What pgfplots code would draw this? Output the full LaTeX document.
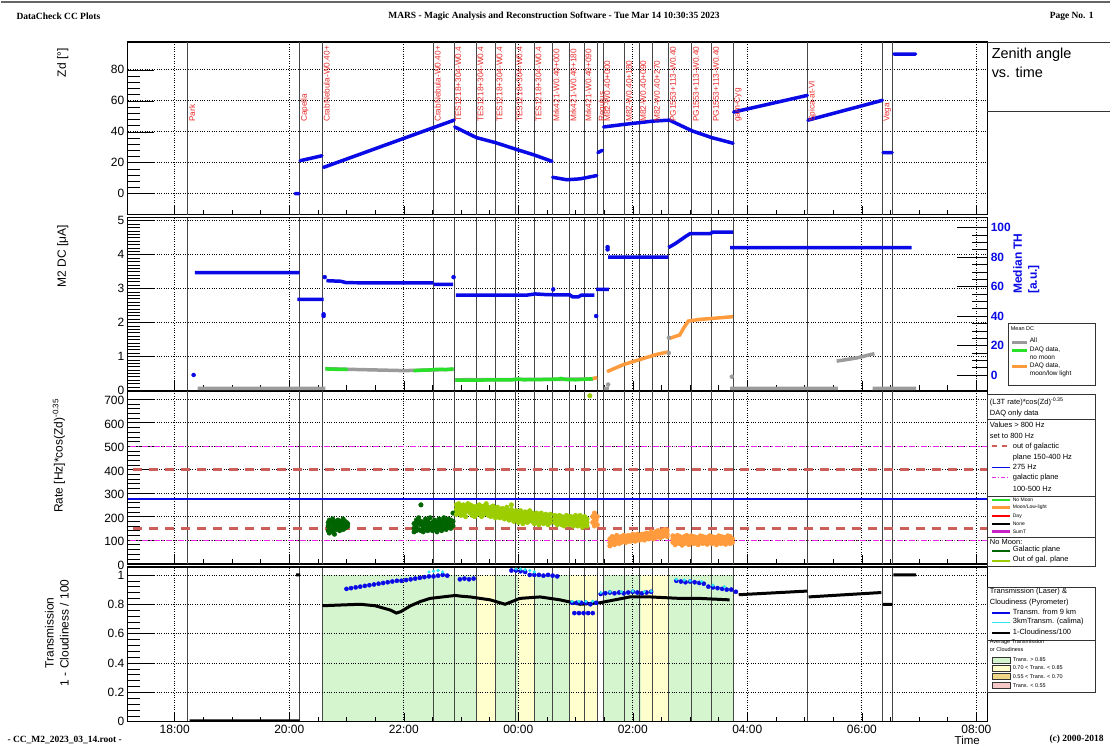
\documentclass[border=0pt]{standalone}
\usepackage{fontspec}
\setmainfont{Liberation Sans}
\newfontfamily\hdrfont{Liberation Serif}
\usepackage{pgfplots}
\usepackage{pgfplotstable}
\pgfplotsset{compat=1.18}

\definecolor{zdblue}{RGB}{10,10,230}
\definecolor{dcgray}{RGB}{155,155,155}
\definecolor{nomoon}{RGB}{40,225,40}
\definecolor{moonor}{RGB}{255,155,60}
\definecolor{galgreen}{RGB}{0,100,0}
\definecolor{outgal}{RGB}{155,205,0}
\definecolor{reddash}{RGB}{205,95,90}
\definecolor{magdash}{RGB}{235,40,235}
\definecolor{cyanc}{RGB}{40,230,240}
\definecolor{labred}{RGB}{235,45,45}
\definecolor{trgreen}{RGB}{212,245,206}
\definecolor{tryellow}{RGB}{255,255,205}
\definecolor{trorange}{RGB}{240,215,135}
\definecolor{trpink}{RGB}{247,200,200}
\definecolor{vline}{RGB}{70,70,70}

\pgfplotsset{
  panel/.style={
    scale only axis, width=861pt,
    xmin=17.18, xmax=32.19,
    xtick={18,20,22,24,26,28,30,32}, minor x tick num=3, xticklabels={},
    tick align=inside, xtick pos=bottom, ytick pos=left,
    major tick length=26pt, minor tick length=12pt,
    xtick style={black, line width=0.5pt, /pgfplots/major tick length=9pt, /pgfplots/minor tick length=5pt},
    ytick style={black, line width=0.5pt},
    grid=major, major grid style={dotted, black, line width=0.7pt},
    axis line style={line width=1.2pt},
    tick label style={font=\fontsize{12}{13}\selectfont},
    /pgf/number format/assume math mode=true,
    unbounded coords=jump,
  },
  vl/.style={ycomb, mark=none, vline, line width=0.9pt},
}

\pgfplotstableread{
x y
18.23 0
20.18 0
20.58 0
22.52 0
22.88 0
23.27 0
23.60 0
23.95 0
24.28 0
24.59 0
24.89 0
25.15 0
25.38 0
25.48 0
25.86 0
26.11 0
26.35 0
26.63 0
27.03 0
27.38 0
27.75 0
29.05 0
30.36 0
30.54 0
}\vx

\pgfplotstableread{
x y label
18.23 45.6 Park
20.18 45.6 Capella
20.58 45.6 CrabNebula-W0.40+
22.52 45.6 CrabNebula-W0.40+
22.88 45.6 TES1218+304-W0.4
23.27 45.6 TES1218+304-W0.4
23.60 45.6 TES1218+304-W0.4
23.95 45.6 TES1218+304-W0.4
24.28 45.6 TES1218+304-W0.4
24.59 45.6 Mrk421-W0.40+000
24.89 45.6 Mrk421-W0.40+180
25.15 45.6 Mrk421-W0.40+090
25.38 45.6 Regulus
25.48 45.6 M82-W0.40+000
25.86 45.6 M82-W0.40+180
26.11 45.6 M82-W0.40+090
26.35 45.6 M82-W0.40+270
26.63 45.6 PG1553+113-W0.40
27.03 45.6 PG1553+113-W0.40
27.38 45.6 PG1553+113-W0.40
27.75 45.6 gam-Cyg
29.05 45.6 Spica-at-VI
30.36 45.6 Vega
}\srclabels

\begin{document}
\begin{tikzpicture}
\fill[white] (0,0) rectangle (1111pt,749pt);

% ---------------- Panel 1: Zd ----------------
\begin{axis}[panel, at={(127pt,534pt)}, anchor=south west, height=173pt,
  ymin=-13.5, ymax=98, ytick={0,20,40,60,80}, minor y tick num=4]
\addplot[vl] table[x=x, y expr=98] {\vx};
\addplot[vl] table[x=x, y expr=-13.5] {\vx};
\addplot[zdblue, line width=3.5pt, line cap=round] coordinates {
(20.10,0)(20.17,0)(20.17,nan)
(20.19,21.3)(20.57,24.5)(20.57,nan)
(20.60,17.0)(22.88,47.5)(22.88,nan)
(22.89,43.1)(23.27,36.2)(23.60,33.0)(23.95,28.8)(24.28,25.0)(24.59,20.9)(24.59,nan)
(24.60,10.6)(24.85,9.0)(25.08,9.6)(25.37,11.7)(25.37,nan)
(25.39,26.6)(25.47,28.0)(25.47,nan)
(25.49,43.1)(25.86,44.8)(26.36,46.9)(26.64,47.5)(27.04,40.5)(27.38,36.2)(27.75,32.6)(27.75,nan)
(27.76,52.7)(29.05,63.5)(29.05,nan)
(29.06,47.5)(30.36,60.3)(30.36,nan)
(30.37,26.6)(30.53,26.6)(30.53,nan)
(30.56,90.2)(30.94,90.2)};
\addplot[draw=none, mark=none, nodes near coords, point meta=explicit symbolic,
  every node near coord/.append style={rotate=90, anchor=north west, inner sep=1pt,
  font=\fontsize{8.3}{9}\selectfont, text=labred}]
  table[x=x, y=y, meta=label] {\srclabels};
\end{axis}

% ---------------- Panel 2: DC ----------------
\begin{axis}[panel, at={(127pt,358pt)}, anchor=south west, height=173pt,
  ymin=0, ymax=5.09, ytick={0,1,2,3,4,5}, minor y tick num=9]
\addplot[vl] table[x=x, y expr=5.09] {\vx};
\addplot[dcgray, line width=3.5pt] coordinates {
(18.40,0.06)(20.63,0.06)(20.63,nan)
(20.63,0.64)(21.0,0.62)(21.5,0.60)(22.0,0.58)(22.5,0.60)(22.87,0.62)(22.87,nan)
(22.90,0.31)(25.30,0.33)(25.30,nan)
(25.50,0.06)(25.58,0.06)(25.58,nan)
(27.70,0.06)(29.58,0.06)(29.58,nan)
(29.56,0.86)(29.9,0.95)(30.22,1.08)(30.22,nan)
(30.19,0.06)(30.95,0.06)};
\addplot[only marks, mark=*, mark size=2pt, dcgray] coordinates {(25.57,0.17)(26.63,1.10)(26.63,1.55)(27.73,0.40)};
\addplot[nomoon, line width=3.5pt] coordinates {
(20.63,0.63)(20.8,0.62)(21.02,0.62)(21.02,nan)
(22.17,0.58)(22.3,0.59)(22.45,0.60)(22.6,0.62)(22.75,0.61)(22.87,0.63)(22.87,nan)
(22.90,0.30)(23.3,0.30)(23.6,0.31)(23.9,0.31)(24.0,0.33)(24.1,0.31)(24.5,0.32)(24.7,0.33)(24.75,0.35)(24.8,0.32)(25.0,0.31)(25.30,0.34)};
\addplot[moonor, line width=3.5pt] coordinates {
(25.30,0.35)(25.38,0.37)(25.38,nan)
(25.55,0.55)(25.84,0.76)(26.13,0.91)(26.42,1.06)(26.62,1.13)(26.62,nan)
(26.64,1.53)(26.82,1.63)(26.89,1.84)(26.97,2.04)(27.17,2.09)(27.40,2.12)(27.75,2.17)};
\end{axis}
\begin{axis}[panel, at={(127pt,358pt)}, anchor=south west, height=173pt,
  axis x line=none, axis y line*=right, ytick pos=right, yticklabel pos=right, grid=none,
  ymin=-10.4, ymax=106.8, ytick={0,20,40,60,80,100}, minor y tick num=3,
  major tick length=30pt, minor tick length=15pt,
  yticklabel style={text=zdblue, font=\fontsize{12}{13}\selectfont\bfseries}]
\addplot[zdblue, line width=3.5pt] coordinates {
(18.35,69.4)(20.18,69.4)(20.18,nan)
(20.14,51.3)(20.60,51.3)(20.60,nan)
(20.65,64.0)(20.90,63.6)(21.0,62.6)(22.52,62.5)(22.52,nan)
(22.53,61.5)(22.86,61.5)(22.86,nan)
(22.91,54.2)(24.15,54.2)(24.3,55.0)(24.5,54.5)(24.9,54.3)(24.95,53.0)(25.05,53.0)(25.1,54.2)(25.33,54.2)(25.33,nan)
(25.36,58.1)(25.58,58.1)(25.58,nan)
(25.57,80.0)(26.62,80.0)(26.62,nan)
(26.62,86.4)(26.74,89.1)(26.93,94.2)(27.0,95.9)(27.35,95.9)(27.40,97.0)(27.75,97.0)(27.75,nan)
(27.70,86.4)(30.87,86.4)};
\addplot[only marks, mark=*, mark size=2pt, zdblue] coordinates {
(18.33,0)(20.60,41.2)(20.60,40.0)(20.62,66.4)(22.87,66.4)(24.61,58.1)(25.36,40.0)(25.56,86.8)(25.56,85.2)};
\end{axis}

% ---------------- Panel 3: Rate ----------------
\begin{axis}[panel, at={(127pt,184pt)}, anchor=south west, height=173pt,
  ymin=-2, ymax=734, ytick={0,100,200,300,400,500,600,700}, minor y tick num=4,
  yticklabel style={yshift=-1.5pt}]
\addplot[vl] table[x=x, y expr=734] {\vx};
\addplot[vl] table[x=x, y expr=-2] {\vx};
\addplot[only marks, mark=*, mark size=2.3pt, galgreen] coordinates {
(20.68,160)(20.68,175)(20.68,140)(20.70,185)(20.70,150)(20.70,130)(20.73,170)(20.73,145)(20.73,180)
(20.76,165)(20.76,190)(20.76,135)(20.79,155)(20.79,175)(20.79,125)(20.82,180)(20.82,160)(20.82,145)
(20.85,170)(20.85,150)(20.85,185)(20.88,160)(20.88,140)(20.88,175)(20.91,180)(20.91,150)(20.91,165)
(20.94,170)(20.94,190)(20.94,145)(20.97,160)(20.97,180)(20.97,150)(21.00,175)(21.00,155)(21.00,165)
(21.02,170)(21.02,160)
(22.18,150)(22.18,170)(22.18,135)(22.22,160)(22.22,185)(22.22,140)(22.26,175)(22.26,145)(22.26,195)
(22.30,165)(22.30,140)(22.30,180)(22.30,250)(22.34,155)(22.34,175)(22.34,135)(22.38,170)(22.38,145)(22.38,190)
(22.42,160)(22.42,180)(22.42,140)(22.46,150)(22.46,170)(22.46,195)(22.50,175)(22.50,140)(22.50,160)
(22.54,165)(22.54,185)(22.54,145)(22.58,155)(22.58,175)(22.58,135)(22.62,170)(22.62,190)(22.62,150)
(22.66,160)(22.66,180)(22.66,140)(22.70,175)(22.70,150)(22.70,195)(22.74,165)(22.74,185)(22.74,145)
(22.78,155)(22.78,175)(22.78,190)(22.82,170)(22.82,150)(22.82,185)(22.86,180)(22.86,160)(22.86,215)};
\addplot[only marks, mark=*, mark size=2.3pt, outgal] coordinates {
(22.92,230)(22.92,250)(22.92,210)(22.96,240)(22.96,215)(22.96,255)(23.00,225)(23.00,245)(23.00,205)
(23.04,235)(23.04,210)(23.04,250)(23.08,220)(23.08,245)(23.08,200)(23.12,240)(23.12,225)(23.12,255)
(23.16,215)(23.16,235)(23.16,250)(23.20,230)(23.20,205)(23.20,245)(23.24,240)(23.24,220)(23.24,200)
(23.28,225)(23.28,245)(23.28,210)(23.32,235)(23.32,215)(23.32,250)(23.36,220)(23.36,240)(23.36,200)
(23.40,230)(23.40,210)(23.40,245)(23.44,215)(23.44,235)(23.44,255)(23.48,225)(23.48,205)(23.48,240)
(23.52,220)(23.52,240)(23.52,200)(23.56,230)(23.56,210)(23.56,245)(23.60,215)(23.60,235)(23.60,195)
(23.64,225)(23.64,200)(23.64,240)(23.68,210)(23.68,230)(23.68,195)(23.72,220)(23.72,200)(23.72,235)
(23.76,210)(23.76,230)(23.76,190)(23.80,220)(23.80,195)(23.80,240)(23.84,205)(23.84,225)(23.84,185)
(23.88,215)(23.88,195)(23.88,230)(23.88,250)(23.92,200)(23.92,220)(23.92,180)(23.96,210)(23.96,190)(23.96,225)
(24.00,195)(24.00,215)(24.00,175)(24.04,205)(24.04,185)(24.04,225)(24.08,190)(24.08,210)(24.08,170)
(24.12,200)(24.12,180)(24.12,220)(24.16,195)(24.16,215)(24.16,175)(24.20,185)(24.20,205)(24.20,225)
(24.24,200)(24.24,180)(24.24,215)(24.28,190)(24.28,210)(24.28,170)(24.32,195)(24.32,175)(24.32,215)
(24.36,185)(24.36,205)(24.36,165)(24.40,195)(24.40,180)(24.40,215)(24.44,185)(24.44,205)(24.44,170)
(24.48,195)(24.48,175)(24.48,210)(24.52,180)(24.52,200)(24.52,165)(24.56,190)(24.56,210)(24.56,175)
(24.64,190)(24.64,175)(24.64,205)(24.68,180)(24.68,200)(24.68,165)(24.72,190)(24.72,170)(24.72,205)
(24.76,185)(24.76,200)(24.76,165)(24.80,175)(24.80,195)(24.80,160)(24.84,190)(24.84,170)(24.84,205)
(24.88,180)(24.88,200)(24.88,165)(24.92,190)(24.92,170)(24.92,200)(24.96,175)(24.96,195)(24.96,160)
(25.00,185)(25.00,205)(25.00,165)(25.04,180)(25.04,195)(25.04,160)(25.08,190)(25.08,170)(25.08,205)
(25.12,175)(25.12,195)(25.12,155)(25.16,185)(25.16,165)(25.16,200)(25.20,175)(25.20,190)(25.20,160)
(25.25,715)};
\addplot[only marks, mark=*, mark size=2.3pt, moonor] coordinates {
(25.30,175)(25.30,200)(25.33,160)(25.33,215)(25.33,190)(25.36,185)(25.36,170)(25.38,200)(25.38,165)
(25.60,90)(25.60,105)(25.60,75)(25.64,100)(25.64,85)(25.64,115)(25.68,95)(25.68,110)(25.68,80)
(25.72,105)(25.72,90)(25.72,120)(25.76,95)(25.76,110)(25.76,85)(25.80,100)(25.80,115)(25.80,90)
(25.84,105)(25.84,95)(25.84,120)(25.88,100)(25.88,115)(25.88,90)(25.92,110)(25.92,95)(25.92,120)
(25.96,105)(25.96,115)(25.96,95)(26.00,110)(26.00,100)(26.00,125)(26.04,105)(26.04,120)(26.04,95)
(26.08,115)(26.08,100)(26.08,125)(26.12,110)(26.12,120)(26.12,100)(26.16,115)(26.16,105)(26.16,125)
(26.20,110)(26.20,125)(26.20,100)(26.24,120)(26.24,105)(26.24,130)(26.28,115)(26.28,125)(26.28,105)
(26.32,120)(26.32,110)(26.32,135)(26.36,115)(26.36,125)(26.36,105)(26.40,120)(26.40,110)(26.40,135)
(26.44,125)(26.44,115)(26.44,140)(26.48,120)(26.48,135)(26.48,110)(26.52,125)(26.52,115)(26.52,140)
(26.56,130)(26.56,120)(26.56,145)(26.60,125)(26.60,140)(26.60,115)
(26.70,105)(26.70,90)(26.70,118)(26.74,95)(26.74,112)(26.74,80)(26.78,108)(26.78,88)(26.78,120)
(26.82,100)(26.82,115)(26.82,85)(26.86,110)(26.86,92)(26.86,78)(26.90,98)(26.90,115)(26.90,85)
(26.94,105)(26.94,88)(26.94,120)(26.98,95)(26.98,110)(26.98,80)(27.02,108)(27.02,92)(27.02,118)
(27.06,100)(27.06,115)(27.06,85)(27.10,105)(27.10,88)(27.10,112)(27.14,95)(27.14,110)(27.14,80)
(27.18,108)(27.18,92)(27.18,118)(27.22,100)(27.22,115)(27.22,85)(27.26,105)(27.26,88)(27.26,112)
(27.30,95)(27.30,110)(27.30,82)(27.34,108)(27.34,92)(27.34,118)(27.38,100)(27.38,115)(27.38,85)
(27.42,105)(27.42,88)(27.42,112)(27.46,95)(27.46,110)(27.46,80)(27.50,108)(27.50,92)(27.50,118)
(27.54,100)(27.54,115)(27.54,85)(27.58,105)(27.58,88)(27.58,112)(27.62,95)(27.62,110)(27.62,82)
(27.66,108)(27.66,92)(27.66,118)(27.70,100)(27.70,115)(27.70,85)(27.74,105)(27.74,90)};
\addplot[magdash, line width=1pt, dash pattern=on 6pt off 2.5pt on 1.2pt off 2.5pt] coordinates {(17,500)(33,500)};
\addplot[magdash, line width=1pt, dash pattern=on 6pt off 2.5pt on 1.2pt off 2.5pt] coordinates {(17,100)(33,100)};
\addplot[reddash, line width=2.6pt, dash pattern=on 9pt off 7pt] coordinates {(17,400)(33,400)};
\addplot[reddash, line width=2.6pt, dash pattern=on 9pt off 7pt] coordinates {(17,150)(33,150)};
\addplot[zdblue, line width=1.2pt] coordinates {(17,275)(33,275)};
\end{axis}

% ---------------- Panel 4: Transmission ----------------
\begin{axis}[panel, axis on top, at={(127pt,26pt)}, anchor=south west, height=155pt,
  ymin=0, ymax=1.054, ytick={0,0.2,0.4,0.6,0.8,1}, minor y tick num=4,
  xticklabels={18:00,20:00,22:00,00:00,02:00,04:00,06:00,08:00}]
\addplot[fill=trgreen, draw=none] coordinates {(20.58,0)(20.58,1)(23.27,1)(23.27,0)} -- cycle;
\addplot[fill=tryellow, draw=none] coordinates {(23.27,0)(23.27,1)(23.60,1)(23.60,0)} -- cycle;
\addplot[fill=trgreen, draw=none] coordinates {(23.60,0)(23.60,1)(24.00,1)(24.00,0)} -- cycle;
\addplot[fill=tryellow, draw=none] coordinates {(24.00,0)(24.00,1)(24.28,1)(24.28,0)} -- cycle;
\addplot[fill=trgreen, draw=none] coordinates {(24.28,0)(24.28,1)(24.89,1)(24.89,0)} -- cycle;
\addplot[fill=tryellow, draw=none] coordinates {(24.89,0)(24.89,1)(25.38,1)(25.38,0)} -- cycle;
\addplot[fill=trgreen, draw=none] coordinates {(25.48,0)(25.48,1)(26.15,1)(26.15,0)} -- cycle;
\addplot[fill=tryellow, draw=none] coordinates {(26.15,0)(26.15,1)(26.63,1)(26.63,0)} -- cycle;
\addplot[fill=trgreen, draw=none] coordinates {(26.63,0)(26.63,1)(27.75,1)(27.75,0)} -- cycle;
\addplot[vl] table[x=x, y expr=1.054] {\vx};
\addplot[black, line width=3pt] coordinates {
(18.26,0.005)(20.18,0.005)(20.18,nan)
(20.12,1.0)(20.19,1.0)(20.19,nan)
(20.58,0.79)(20.9,0.795)(21.24,0.80)(21.5,0.79)(21.77,0.76)(21.87,0.74)(21.95,0.75)(22.12,0.79)(22.3,0.82)(22.46,0.84)(22.90,0.86)(23.0,0.855)(23.16,0.85)(23.51,0.83)(23.77,0.80)(24.03,0.84)(24.38,0.85)(24.73,0.83)(25.08,0.80)(25.42,0.81)(25.95,0.85)(26.30,0.85)(26.82,0.84)(27.17,0.84)(27.69,0.83)(27.69,nan)
(27.85,0.865)(29.05,0.89)(29.05,nan)
(29.07,0.85)(30.34,0.88)(30.34,nan)
(30.37,0.80)(30.53,0.80)(30.53,nan)
(30.55,1.0)(30.95,1.0)};
\addplot[only marks, mark=*, mark size=2.1pt, zdblue] coordinates {
(21.00,0.905)(21.08,0.91)(21.16,0.915)(21.24,0.92)(21.32,0.925)(21.40,0.93)(21.48,0.935)(21.56,0.94)(21.64,0.945)
(21.72,0.95)(21.80,0.955)(21.88,0.96)(21.96,0.96)(22.04,0.965)(22.12,0.97)(22.20,0.975)(22.28,0.98)(22.36,0.985)
(22.44,0.99)(22.52,0.99)(22.60,0.995)(22.68,1.0)(22.76,0.995)(22.98,0.97)(23.06,0.975)(23.14,0.97)(23.22,0.975)
(23.88,1.03)(23.96,1.03)(24.04,1.025)(24.12,1.02)(24.20,1.0)(24.28,1.0)(24.36,1.0)(24.44,0.995)(24.52,1.0)(24.60,0.995)(24.68,0.99)
(24.94,0.81)(24.98,0.74)(25.02,0.81)(25.06,0.74)(25.10,0.81)(25.14,0.74)(25.18,0.81)(25.22,0.74)(25.26,0.80)(25.30,0.74)(25.36,0.81)
(25.44,0.87)(25.52,0.875)(25.60,0.88)(25.68,0.875)(25.76,0.88)(25.84,0.875)(25.92,0.88)(26.00,0.885)(26.08,0.88)(26.16,0.875)(26.24,0.88)(26.32,0.885)
(26.76,0.96)(26.84,0.955)(26.92,0.95)(27.00,0.955)(27.08,0.95)(27.16,0.945)(27.24,0.94)(27.32,0.92)(27.40,0.915)(27.48,0.91)(27.56,0.905)(27.64,0.90)(27.72,0.90)(27.80,0.885)};
\addplot[only marks, mark=*, mark size=1.4pt, cyanc] coordinates {
(22.44,1.02)(22.52,1.025)(22.60,1.03)(22.68,1.02)(23.96,1.04)(24.04,1.04)(24.12,1.035)(24.20,1.03)(24.28,1.02)
(24.94,0.82)(25.06,0.82)(25.18,0.82)(25.30,0.82)(25.44,0.88)(25.6,0.885)(25.8,0.885)(26.0,0.89)(26.2,0.885)(26.32,0.89)
(26.76,0.97)(26.9,0.965)(27.0,0.96)(27.2,0.955)(27.4,0.93)(27.6,0.92)};
\end{axis}

% ---------------- Texts and legends (image coordinates) ----------------
\begin{scope}[x=1pt, y=-1pt, shift={(0,749pt)}]
\draw[black!60, line width=2pt] (0,2) -- (1111,2);
\node[anchor=west, font=\hdrfont\bfseries\fontsize{9.5}{11}\selectfont] at (12,16) {DataCheck CC Plots};
\node[font=\hdrfont\bfseries\fontsize{9.5}{11}\selectfont] at (554,16) {MARS - Magic Analysis and Reconstruction Software - Tue Mar 14 10:30:35 2023};
\node[anchor=east, font=\hdrfont\bfseries\fontsize{9.5}{11}\selectfont] at (1098,16) {Page No. 1};
\node[anchor=west, font=\hdrfont\bfseries\fontsize{9.5}{11}\selectfont] at (3,741) {- CC\_M2\_2023\_03\_14.root -};
\node[anchor=east, font=\hdrfont\bfseries\fontsize{9.5}{11}\selectfont] at (1108,741) {(c) 2000-2018};
\node[font=\fontsize{11.5}{12}\selectfont] at (968,742) {Time};

% y labels
\node[rotate=90, anchor=east, font=\fontsize{12}{13}\selectfont] at (62,45) {Zd [°]};
\node[rotate=90, anchor=east, font=\fontsize{12}{13}\selectfont] at (62,222) {M2 DC [μA]};
\node[rotate=90, anchor=east, font=\fontsize{12}{13}\selectfont] at (58,396) {Rate [Hz]*cos(Zd)\textsuperscript{-0.35}};
\node[rotate=90, align=center, font=\fontsize{12}{15}\selectfont] at (56,634) {Transmission\\1 - Cloudiness / 100};
\node[rotate=90, anchor=west, align=left, text=zdblue, font=\fontsize{12}{15}\selectfont\bfseries] at (1027,298) {Median TH\\{[a.u.]}};

% Zenith box
\draw[black!80, line width=0.8pt] (988,42) -- (1111,42) (988,112) -- (1111,112);
\node[anchor=west, font=\fontsize{14.5}{16}\selectfont] at (989,55) {Zenith angle};
\node[anchor=west, font=\fontsize{14.5}{16}\selectfont] at (989,72) {vs. time};

% Mean DC legend
\draw[black!80, line width=0.7pt, fill=white] (1009,324) rectangle (1096,386);
\begin{scope}[every node/.style={anchor=west, inner sep=0.5pt, font=\fontsize{6.5}{7}\selectfont}]
\node[font=\fontsize{5.5}{6}\selectfont] at (1011,329) {Mean DC};
\draw[dcgray, line width=2.5pt] (1013,343) -- (1028,343); \node at (1030,341) {All};
\draw[nomoon, line width=2.5pt] (1013,351) -- (1028,351); \node at (1030,350) {DAQ data,};
\node at (1030,358) {no moon};
\draw[moonor, line width=2.5pt] (1013,367) -- (1028,367); \node at (1030,366) {DAQ data,};
\node at (1030,374) {moon/low light};
\end{scope}

% Rate legend
\draw[black!80, line width=0.7pt] (988,395) rectangle (1096,567);
\draw[black!80, line width=0.7pt] (988,420) -- (1096,420);
\draw[black!80, line width=0.7pt] (988,497) -- (1096,497);
\draw[black!80, line width=0.7pt] (988,538) -- (1096,538);
\begin{scope}[every node/.style={anchor=west, inner sep=0.5pt, font=\fontsize{7.5}{8}\selectfont}]
\node at (990,403) {(L3T rate)*cos(Zd)\textsuperscript{-0.35}};
\node at (990,414) {DAQ only data};
\node at (990,426) {Values > 800 Hz};
\node at (990,437) {set to 800 Hz};
\draw[reddash, line width=2pt, dash pattern=on 5pt off 5pt] (993,447) -- (1011,447); \node at (1013,447) {out of galactic};
\node at (1013,458) {plane 150-400 Hz};
\draw[zdblue, line width=1.2pt] (993,468) -- (1011,468); \node at (1013,468) {275 Hz};
\draw[magdash, line width=1pt, dash pattern=on 4pt off 2pt on 1pt off 2pt] (993,478) -- (1011,478); \node at (1013,478) {galactic plane};
\node at (1013,490) {100-500 Hz};
\node at (990,543) {No Moon:};
\draw[galgreen, line width=2.5pt] (993,552) -- (1011,552); \node at (1013,551) {Galactic plane};
\draw[outgal, line width=2.5pt] (993,562) -- (1011,562); \node at (1013,561) {Out of gal. plane};
\end{scope}
\begin{scope}[every node/.style={anchor=west, inner sep=0.5pt, font=\fontsize{5}{5.5}\selectfont}]
\draw[nomoon, line width=2.2pt] (993,501) -- (1011,501); \node at (1013,501) {No Moon};
\draw[moonor, line width=2.2pt] (993,508.5) -- (1011,508.5); \node at (1013,508.5) {Moon/Low-light};
\draw[red, line width=2.2pt] (993,517) -- (1011,517); \node at (1013,517) {Day};
\draw[black, line width=2.2pt] (993,525) -- (1011,525); \node at (1013,525) {None};
\draw[magdash!85!black, line width=2.2pt] (993,532.5) -- (1011,532.5); \node at (1013,532.5) {SumT};
\end{scope}

% Transmission legend
\draw[black!80, line width=0.7pt] (988,588) rectangle (1096,694);
\draw[black!80, line width=0.7pt] (988,641) -- (1096,641);
\begin{scope}[every node/.style={anchor=west, inner sep=0.5pt, font=\fontsize{7.5}{8}\selectfont}]
\node at (990,593) {Transmission (Laser) \&};
\node at (990,604) {Cloudiness (Pyrometer)};
\draw[zdblue, line width=2.2pt] (993,614) -- (1011,614); \node at (1013,613) {Transm. from 9 km};
\draw[cyanc, line width=0.8pt] (993,624) -- (1011,624); \node at (1013,623) {3kmTransm. (calima)};
\draw[black, line width=2.2pt] (993,634) -- (1011,634); \node at (1013,633) {1-Cloudiness/100};
\end{scope}
\begin{scope}[every node/.style={anchor=west, inner sep=0.5pt, font=\fontsize{5.5}{6}\selectfont}]
\node at (990,643.5) {Average Transmission};
\node at (990,650.5) {or Cloudiness};
\draw[fill=trgreen, draw=black!80, line width=0.6pt] (993,658) rectangle (1011,664); \node at (1013,660.5) {Trans. > 0.85};
\draw[fill=tryellow, draw=black!80, line width=0.6pt] (993,666.5) rectangle (1011,672.5); \node at (1013,669) {0.70 < Trans. < 0.85};
\draw[fill=trorange, draw=black!80, line width=0.6pt] (993,675) rectangle (1011,681); \node at (1013,678) {0.55 < Trans. < 0.70};
\draw[fill=trpink, draw=black!80, line width=0.6pt] (993,683.5) rectangle (1011,689.5); \node at (1013,686.5) {Trans. < 0.55};
\end{scope}
\end{scope}
\end{tikzpicture}
\end{document}
